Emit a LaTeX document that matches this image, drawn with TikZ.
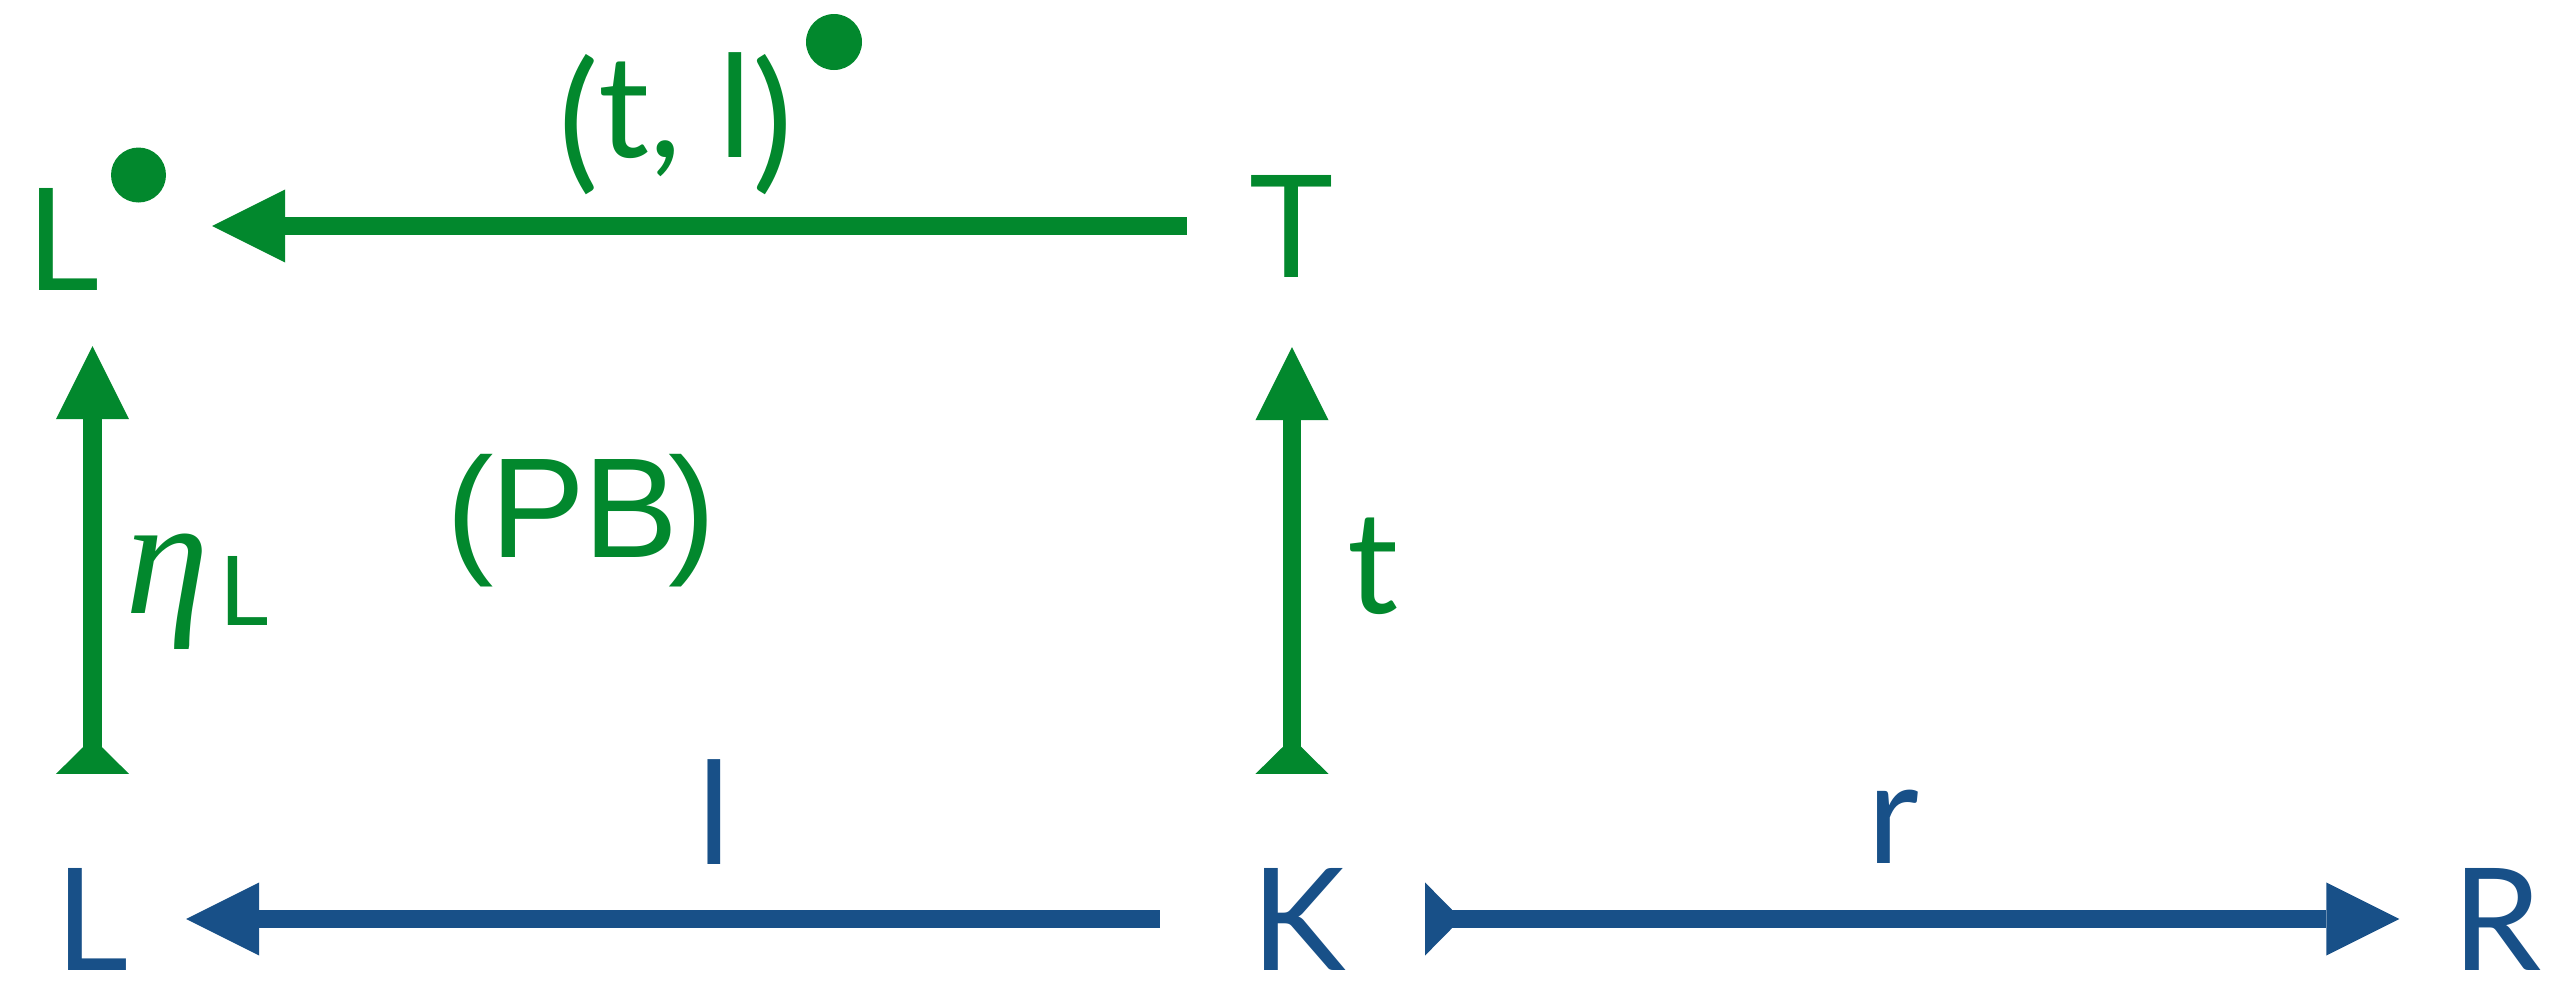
\documentclass[tikz,border=0pt]{standalone}
\usepackage{fontspec}
\setmainfont{Lato}
\newfontfamily\arialfont{Liberation Sans}
\newfontfamily\timesfont{Liberation Serif}
\usetikzlibrary{arrows.meta,calc}
\definecolor{cgreen}{RGB}{2,136,45}
\definecolor{cblue}{RGB}{24,80,136}
\begin{document}
\begin{tikzpicture}[x=0.01cm,y=-0.01cm,
  obj/.style={inner sep=0pt, anchor=base, text height=1.02cm, text depth=0pt, font=\fontsize{40.5}{44}\selectfont},
  lbl/.style={inner sep=0pt, anchor=base, font=\fontsize{40.5}{44}\selectfont},
  conn/.style={line width=0.185cm},
  headtip/.tip={Triangle[length=0.73cm, width=0.73cm, line width=0pt]},
  tailtip/.tip={Triangle[reversed, length=0.36cm, width=0.73cm, line width=0pt]},
]
\useasboundingbox (0,0) rectangle (2563,981);

% objects
\node[obj, text=cgreen] (Ltop) at (63,290) {L};
\node[obj, text=cgreen] (T) at (1292,277) {T};
\node[obj, text=cblue] (Lb) at (92,970) {L};
\node[obj, text=cblue] (K) at (1299,970) {K};
\node[obj, text=cblue] (R) at (2497,970) {R};

% bullets
\fill[cgreen] (138.5,175) circle[radius=27.5];
\fill[cgreen] (834,42) circle[radius=28];

% connectors
\draw[conn, cgreen, -{headtip}, shorten <=1.05cm, shorten >=1.49cm] (T.center) -- (T.center -| Ltop.center);

\draw[conn, cgreen, -{headtip}, shorten <=1.45cm, shorten >=1.07cm] ($(Lb.center)+(0.5,0)$) -- ($(Ltop.center)+(29.5,0)$);
\draw[conn, cgreen, {tailtip}-, shorten <=1.45cm, shorten >=2.0cm] ($(Lb.center)+(0.5,0)$) -- ($(Ltop.center)+(29.5,0)$);

\draw[conn, cgreen, -{headtip}, shorten <=1.45cm, shorten >=1.21cm] (K.center -| T.center) -- (T.center);
\draw[conn, cgreen, {tailtip}-, shorten <=1.45cm, shorten >=2.1cm] (K.center -| T.center) -- (T.center);

\draw[conn, cblue, -{headtip}, shorten <=1.39cm, shorten >=0.94cm] (K.center) -- (K.center -| Lb.center);

\draw[conn, cblue, -{headtip}, shorten <=1.26cm, shorten >=0.975cm] (K.center) -- (K.center -| R.center);
\draw[conn, cblue, {tailtip}-, shorten <=1.26cm, shorten >=1.9cm] (K.center) -- (K.center -| R.center);

% labels
\node[lbl, text=cgreen] (tl) at (675.5,157) {\raisebox{-0.15cm}{\fontsize{43.3}{46}\selectfont(}t, l\raisebox{-0.15cm}{\fontsize{43.3}{46}\selectfont)}};
\node[lbl, text=cgreen, font=\arialfont\fontsize{40.5}{44}\selectfont] (PB) at (581,557) {(\kern-0.03cm P\kern-0.02cm B\kern-0.1cm)};
\node[inner sep=0pt, anchor=base west, text=cgreen] (eta) at (125,613) {{\timesfont\itshape\fontsize{48}{52}\selectfont η}\kern0.1cm\raisebox{-0.12cm}{\fontsize{27.4}{30}\selectfont L}};
\node[lbl, text=cgreen] (tlab) at (1373,613) {t};
\node[lbl, text=cblue] (llab) at (714,864) {l};
\node[lbl, text=cblue] (rlab) at (1893,863) {r};
\end{tikzpicture}
\end{document}
